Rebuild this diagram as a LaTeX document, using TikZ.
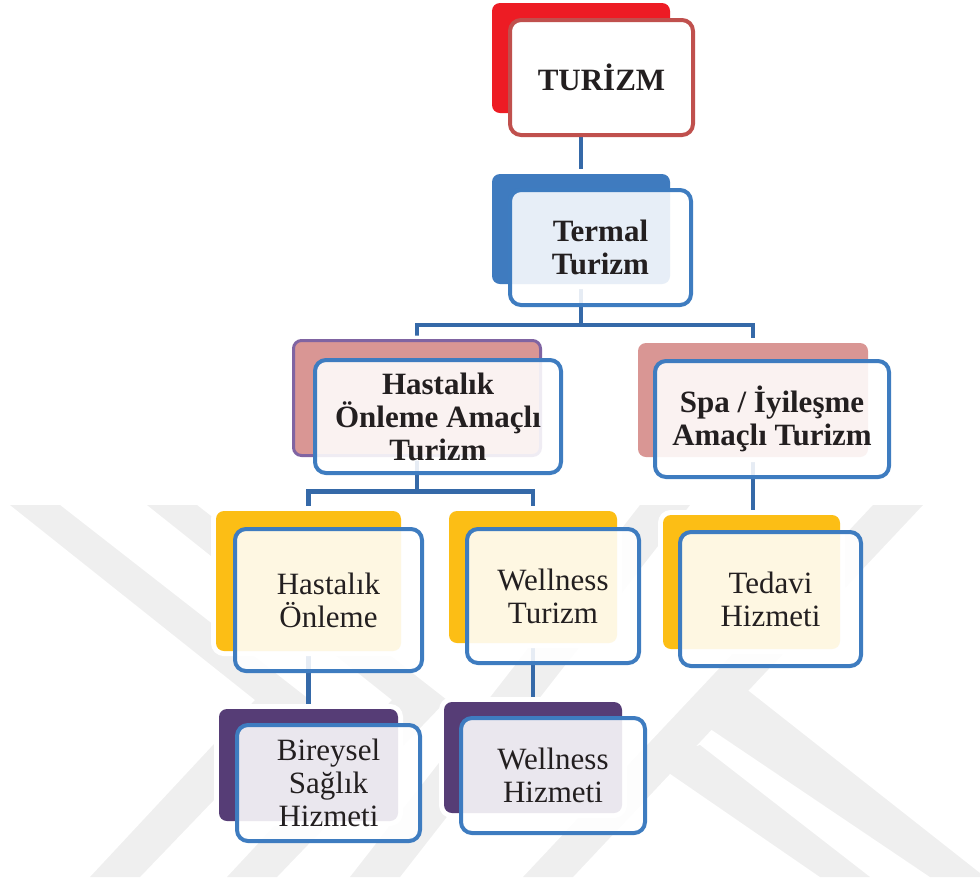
\documentclass[tikz,border=0pt]{standalone}
\usepackage{fontspec}
\setmainfont{Liberation Serif}
\definecolor{redfill}{HTML}{ED1C24}
\definecolor{redline}{HTML}{C0504D}
\definecolor{bluefill}{HTML}{3F7BBF}
\definecolor{frontblue}{HTML}{3E7CC0}
\definecolor{connblue}{HTML}{3569A8}
\definecolor{pinkfill}{HTML}{D99694}
\definecolor{purpleline}{HTML}{8064A2}
\definecolor{yellowfill}{HTML}{FCBE15}
\definecolor{purplefill}{HTML}{563D76}
\definecolor{textcol}{HTML}{231F20}
\definecolor{wmgray}{HTML}{EFEFEF}
\pgfdeclarelayer{wm}
\pgfdeclarelayer{conn}
\pgfsetlayers{wm,conn,main}
\newcommand\boldtxt{\fontsize{15.5}{16.5}\selectfont\bfseries}
\newcommand\regtxt{\fontsize{15.5}{16.5}\selectfont}
\begin{document}
\begin{tikzpicture}[x=0.5pt,y=-0.5pt,
  backbox/.style={rectangle, rounded corners=4pt, inner sep=0pt, outer sep=0pt,
    preaction={draw=white, line width=5pt}},
  frontbox/.style={rectangle, rounded corners=5.5pt, draw=frontblue, line width=2pt,
    fill=white, fill opacity=0.88, text opacity=1, text=textcol, align=center,
    inner sep=0pt, outer sep=0pt},
  conn/.style={draw=connblue, line width=2.25pt, line join=miter},
  wmark/.style={fill=wmgray, draw=none}]
\useasboundingbox (0,0) rectangle (980,880);

% back boxes
\node[backbox, fill=redfill, minimum width=89pt, minimum height=55pt] (b1) at (581,58) {};
\node[backbox, fill=bluefill, minimum width=89pt, minimum height=55pt] (b2) at (581,229) {};
\node[backbox, fill=pinkfill, draw=purpleline, line width=1.5pt, minimum width=123.5pt, minimum height=57.5pt] (b3) at (417,398) {};
\node[backbox, fill=pinkfill, minimum width=115pt, minimum height=57pt] (b4) at (753,400) {};
\node[backbox, fill=yellowfill, minimum width=92.5pt, minimum height=70pt] (b5) at (308.5,581) {};
\node[backbox, fill=yellowfill, minimum width=84pt, minimum height=66pt] (b6) at (533,577) {};
\node[backbox, fill=yellowfill, minimum width=88.5pt, minimum height=67pt] (b7) at (751.5,582) {};
\node[backbox, fill=purplefill, minimum width=89.5pt, minimum height=56pt] (b8) at (308.5,765) {};
\node[backbox, fill=purplefill, minimum width=89pt, minimum height=55.5pt] (b9) at (533,757.5) {};

% front boxes
\node[frontbox, draw=redline, fill opacity=1, minimum width=91.5pt, minimum height=57.5pt, font=\boldtxt] (f1) at (601.5,77.5) {TURİZM};
\node[frontbox, minimum width=90.5pt, minimum height=57.5pt, font=\boldtxt] (f2) at (600.5,247.5) {Termal\\Turizm};
\node[frontbox, minimum width=123pt, minimum height=56.5pt, font=\boldtxt] (f3) at (438,416.5) {Hastalık\\Önleme Amaçlı\\Turizm};
\node[frontbox, minimum width=117pt, minimum height=58pt, font=\boldtxt] (f4) at (772,419) {Spa / İyileşme\\Amaçlı Turizm};
\node[frontbox, minimum width=93.5pt, minimum height=71pt, font=\regtxt] (f5) at (328.5,600) {Hastalık\\Önleme};
\node[frontbox, minimum width=86pt, minimum height=67pt, font=\regtxt] (f6) at (553,596) {Wellness\\Turizm};
\node[frontbox, minimum width=90.5pt, minimum height=67pt, font=\regtxt] (f7) at (770.5,599) {Tedavi\\Hizmeti};
\node[frontbox, minimum width=91.5pt, minimum height=58pt, font=\regtxt] (f8) at (328.5,783) {Bireysel\\Sağlık\\Hizmeti};
\node[frontbox, minimum width=92pt, minimum height=57.5pt, font=\regtxt] (f9) at (553,775.5) {Wellness\\Hizmeti};

% connectors
\begin{pgfonlayer}{conn}
\path (b2.south) ++(0,41) coordinate (j1);
\path (b3.south) ++(0,36) coordinate (j2);
\draw[conn] (b1.south) -- (b2.north);
\draw[conn] (b2.south) -- (j1);
\draw[conn] (b3.north) -- (b3.north |- j1) -- (b4.north |- j1) -- (b4.north);
\draw[conn] (b3.south) -- (j2);
\draw[conn] (b5.north) -- (b5.north |- j2) -- (b6.north |- j2) -- (b6.north);
\draw[conn] (b4.south) -- (b4.south |- b7.north);
\draw[conn] (b5.south) -- (b5.south |- b8.north);
\draw[conn] (b6.south) -- (b6.south |- b9.north);
\end{pgfonlayer}

% watermark
\begin{pgfonlayer}{wm}
\begin{scope}
\clip (0,0) rectangle (980,880);
\fill[wmark] (10,505) -- (60,505) -- (310,700) -- (140,877) -- (90,877) -- (255,700) -- cycle;
\fill[wmark] (147,505) -- (197,505) -- (447,700) -- (277,877) -- (227,877) -- (392,700) -- cycle;
\fill[wmark] (350,877) -- (400,877) -- (690,505) -- (640,505) -- cycle;
\fill[wmark] (523,877) -- (573,877) -- (923,505) -- (873,505) -- cycle;
\fill[wmark] (700,722) -- (745,688) -- (985,877) -- (930,877) -- cycle;
\fill[wmark] (650,760) -- (700,745) -- (870,877) -- (820,877) -- cycle;
\end{scope}
\end{pgfonlayer}
\end{tikzpicture}
\end{document}
